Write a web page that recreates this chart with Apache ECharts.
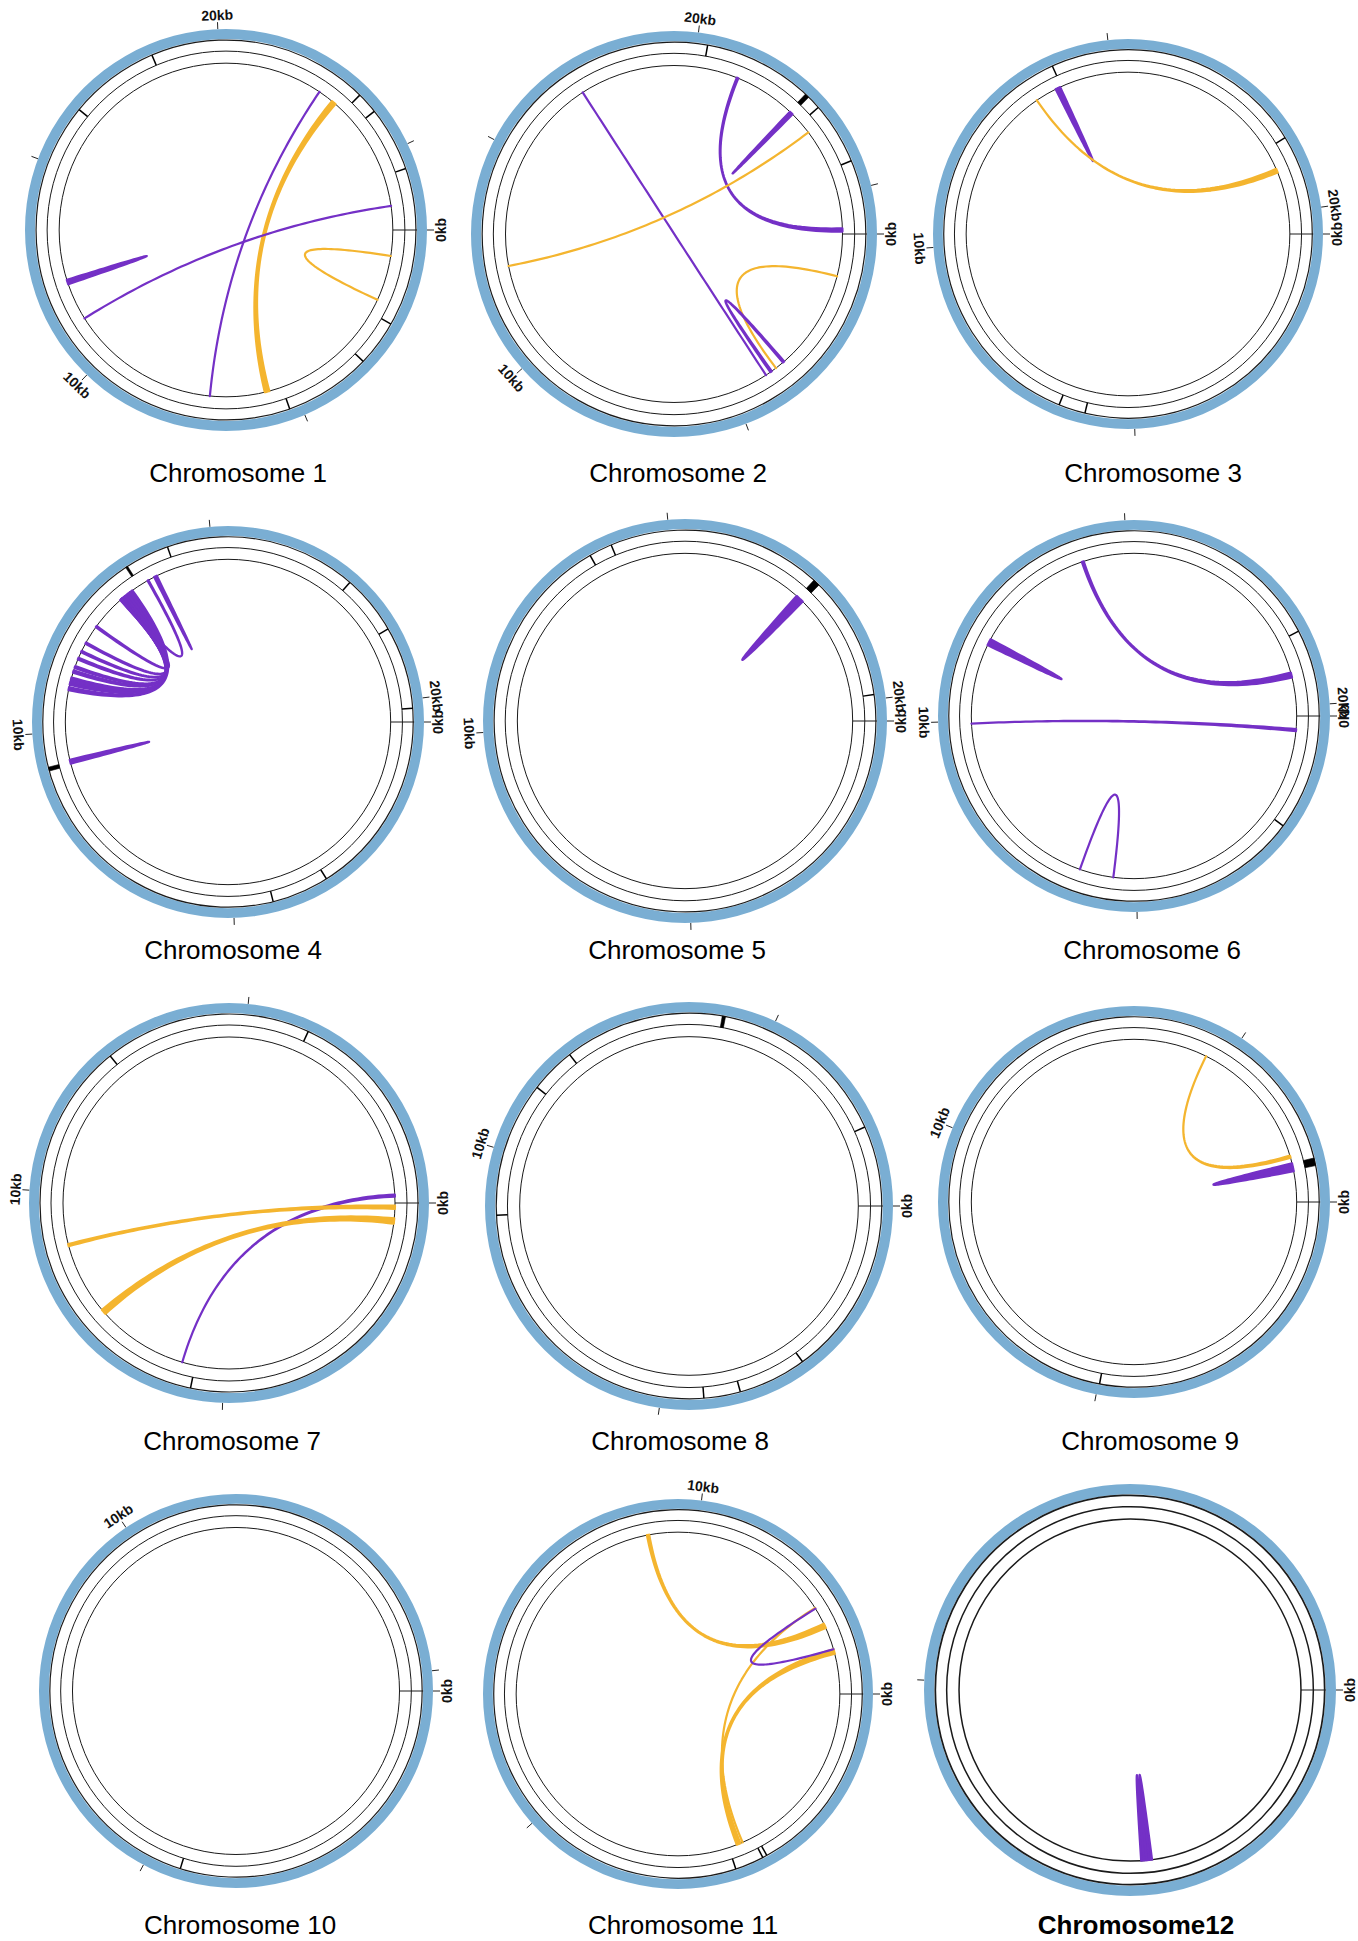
<!DOCTYPE html>
<html>
<head>
<meta charset="utf-8">
<title>Chromosome link maps</title>
<script src="https://cdn.jsdelivr.net/npm/echarts@6.0.0/dist/echarts.min.js"></script>
<style>
    html, body { margin: 0; padding: 0; background: #fff; }
    #chart { width: 1358px; height: 1941px; }
</style>
</head>
<body>
<div id="chart"></div>
<script>
// ---- data (kb) ----
var chromNames = ['Chromosome 1', 'Chromosome 2', 'Chromosome 3', 'Chromosome 4',
    'Chromosome 5', 'Chromosome 6', 'Chromosome 7', 'Chromosome 8',
    'Chromosome 9', 'Chromosome 10', 'Chromosome 11', 'Chromosome12'];
var chromLengths = [26.9, 26.0, 20.45, 20.4, 20.37, 20.2, 19.6, 18.3, 17.8, 15.25, 13.0, 9.85];
var labelTicks = [[0, 10, 20], [0, 10, 20], [0, 10, 20], [0, 10, 20], [0, 10, 20], [0, 10, 20],
    [0, 10], [0, 10], [0, 10], [0, 10], [0, 10], [0]];

// features on the outer track: [start, end]
var chr1Features = [[18.46, 18.46], [16.39, 16.39], [23.52, 23.52], [24.01, 24.01], [25.49, 25.49], [2.22, 2.22], [3.27, 3.27], [5.26, 5.26]];
var chr2Features = [[20.23, 20.23], [22.62, 22.72], [23.02, 23.02], [24.38, 24.38]];
var chr3Features = [[13.96, 13.96], [18.66, 18.66], [6.36, 6.36], [5.88, 5.88]];
var chr4Features = [[14.22, 14.22], [13.40, 13.44], [17.63, 17.63], [18.69, 18.69], [20.16, 20.16], [3.28, 3.28], [4.30, 4.30], [9.33, 9.40]];
var chr5Features = [[13.59, 13.59], [13.99, 13.99], [17.68, 17.80], [19.92, 19.92]];
var chr6Features = [[18.67, 18.67], [2.04, 2.04]];
var chr7Features = [[12.58, 12.58], [16.05, 16.05], [5.54, 5.54]];
var chr8Features = [[14.23, 14.28], [11.78, 11.78], [11.08, 11.08], [9.01, 9.01], [17.07, 17.07], [2.74, 2.74], [3.79, 3.79], [4.35, 4.35]];
var chr9Features = [[17.12, 17.24], [4.98, 4.98]];
var chr10Features = [[4.55, 4.55]];
var chr11Features = [[2.59, 2.59], [2.21, 2.21], [2.26, 2.26]];
var chr12Features = [];

// links: [a1, a2, b1, b2, kind]  kind 0 = purple, 1 = yellow
var chr1Links = [[22.72, 22.72, 7.14, 7.14, 0], [23.12, 23.24, 5.60, 5.72, 1], [26.28, 26.28, 11.06, 11.06, 0],
    [0.67, 0.67, 1.85, 1.85, 1], [12.03, 12.09, 12.09, 12.15, 0]];
var chr2Links = [[17.13, 17.13, 4.11, 4.11, 0], [21.08, 21.12, 25.86, 25.94, 0], [22.64, 22.68, 22.68, 22.73, 0],
    [23.32, 23.32, 12.21, 12.21, 1], [1.05, 1.05, 3.81, 3.81, 1], [3.55, 3.59, 3.94, 3.98, 0]];
var chr3Links = [[13.83, 13.88, 13.88, 13.93, 0], [13.39, 13.39, 19.10, 19.18, 1]];
var chr4Links = [[10.84, 10.90, 13.20, 13.26, 0], [10.95, 11.02, 13.14, 13.20, 0], [11.05, 11.10, 13.08, 13.14, 0],
    [11.20, 11.25, 13.03, 13.08, 0], [11.30, 11.34, 13.00, 13.03, 0], [11.48, 11.52, 12.99, 13.01, 0],
    [11.64, 11.67, 12.98, 13.00, 0], [11.83, 11.86, 12.97, 12.99, 0], [12.22, 12.25, 12.96, 12.98, 0],
    [13.62, 13.64, 12.95, 12.97, 0], [13.77, 13.80, 13.80, 13.83, 0], [9.36, 9.40, 9.40, 9.44, 0]];
var chr5Links = [[17.64, 17.72, 17.72, 17.80, 0]];
var chr6Links = [[14.10, 14.14, 19.33, 19.43, 0], [11.55, 11.61, 11.61, 11.68, 0], [9.95, 9.95, 0.26, 0.30, 0],
    [6.14, 6.14, 5.46, 5.46, 0]];
var chr7Links = [[19.44, 19.48, 5.79, 5.79, 0], [0.05, 0.11, 8.98, 9.02, 1], [0.29, 0.39, 7.52, 7.62, 1]];
var chr8Links = [];
var chr9Links = [[14.65, 14.65, 16.98, 17.02, 1], [17.12, 17.19, 17.19, 17.26, 0]];
var chr10Links = [];
var chr11Links = [[9.35, 9.38, 12.07, 12.13, 1], [11.84, 11.84, 2.40, 2.40, 1], [12.42, 12.48, 2.43, 2.48, 1],
    [11.85, 11.85, 12.42, 12.42, 0]];
var chr12Links = [[2.26, 2.285, 2.285, 2.31, 0], [2.31, 2.335, 2.335, 2.36, 0]];

var featureSets = [chr1Features, chr2Features, chr3Features, chr4Features, chr5Features, chr6Features,
    chr7Features, chr8Features, chr9Features, chr10Features, chr11Features, chr12Features];
var linkSets = [chr1Links, chr2Links, chr3Links, chr4Links, chr5Links, chr6Links,
    chr7Links, chr8Links, chr9Links, chr10Links, chr11Links, chr12Links];

// ---- layout ----
var panelCenters = [[226, 230], [674, 234], [1128, 234], [228, 722], [685, 721], [1134, 716],
    [229, 1203], [689, 1206], [1134, 1202], [236, 1691], [678, 1694], [1130, 1690]];
var panelRadii = [201, 203, 195, 196, 202, 196, 200, 204, 196, 197, 195, 206];
var titleCenters = [[238, 473], [678, 473], [1153, 473], [233, 950], [677, 950], [1152, 950],
    [232, 1441], [680, 1441], [1150, 1441], [240, 1925], [683, 1925], [1136, 1925]];

var LINK_R = 0.83, BAND_IN = 0.89, BAND_OUT = 0.945, IDEO_IN = 0.95;
var IDEO_COLOR = '#7AAED3';
var LINE_COLOR = '#1a1a1a';
var linkColors = ['#7430C6', '#F4B52F'];
var FONT = '"Liberation Sans", Arial, Helvetica, sans-serif';

function screenAngle(api, pos) {
    var c = api.coord([0, 0]);
    var p = api.coord([1, pos]);
    return Math.atan2(p[1] - c[1], p[0] - c[0]);
}

function pixelRadius(api) {
    var c = api.coord([0, 0]);
    var p = api.coord([1, 0]);
    return Math.sqrt((p[0] - c[0]) * (p[0] - c[0]) + (p[1] - c[1]) * (p[1] - c[1]));
}

function quadPoints(p0, c, p2, n) {
    var out = [];
    for (var k = 0; k <= n; k++) {
        var t = k / n, u = 1 - t;
        out.push([u * u * p0[0] + 2 * u * t * c[0] + t * t * p2[0],
                  u * u * p0[1] + 2 * u * t * c[1] + t * t * p2[1]]);
    }
    return out;
}

function arcPoints(api, r, from, to, n) {
    var out = [];
    for (var k = 1; k < n; k++) {
        out.push(api.coord([r, from + (to - from) * k / n]));
    }
    return out;
}

function makeFrame(idx) {
    var thick = idx === 11 ? 1.5 : 1;
    return function (params, api) {
        var c = api.coord([0, 0]);
        var R = pixelRadius(api);
        var start = screenAngle(api, api.value(0));
        var span = (api.value(1) - api.value(0)) / chromLengths[idx] * Math.PI * 2;
        var children = [{
            type: 'sector',
            shape: { cx: c[0], cy: c[1], r0: R * IDEO_IN, r: R, startAngle: start, endAngle: start + span, clockwise: true },
            style: { fill: IDEO_COLOR }
        }];
        [BAND_OUT, BAND_IN, LINK_R].forEach(function (f, j) {
            children.push({
                type: 'circle',
                shape: { cx: c[0], cy: c[1], r: R * f },
                style: { fill: 'none', stroke: LINE_COLOR, lineWidth: j === 0 ? thick + 0.2 : thick }
            });
        });
        var z0 = api.coord([LINK_R, api.value(0)]);
        var z1 = api.coord([IDEO_IN, api.value(0)]);
        children.push({
            type: 'line',
            shape: { x1: z0[0], y1: z0[1], x2: z1[0], y2: z1[1] },
            style: { stroke: LINE_COLOR, lineWidth: 1 }
        });
        return { type: 'group', children: children };
    };
}

function makeFeature(idx) {
    return function (params, api) {
        var s = api.value(0), e = api.value(1);
        var c = api.coord([0, 0]);
        var R = pixelRadius(api);
        if (e - s < 0.01) {
            var p0 = api.coord([BAND_IN, s]);
            var p1 = api.coord([BAND_OUT, s]);
            return {
                type: 'line',
                shape: { x1: p0[0], y1: p0[1], x2: p1[0], y2: p1[1] },
                style: { stroke: '#000', lineWidth: 1.5 }
            };
        }
        var a = screenAngle(api, s);
        return {
            type: 'sector',
            shape: { cx: c[0], cy: c[1], r0: R * BAND_IN, r: R * BAND_OUT, startAngle: a,
                     endAngle: a + (e - s) / chromLengths[idx] * Math.PI * 2, clockwise: true },
            style: { fill: '#000', stroke: '#000', lineWidth: 0.6 }
        };
    };
}

function renderLink(params, api) {
    var a1 = api.value(0), a2 = api.value(1), b1 = api.value(2), b2 = api.value(3);
    var color = linkColors[api.value(4)];
    var c = api.coord([0, 0]);
    var pts = quadPoints(api.coord([LINK_R, a1]), c, api.coord([LINK_R, b2]), 60);
    pts = pts.concat(arcPoints(api, LINK_R, b2, b1, 6));
    pts = pts.concat(quadPoints(api.coord([LINK_R, b1]), c, api.coord([LINK_R, a2]), 60));
    pts = pts.concat(arcPoints(api, LINK_R, a2, a1, 6));
    return {
        type: 'polygon',
        shape: { points: pts },
        style: { fill: color, stroke: color, lineWidth: 2.2, lineJoin: 'round' }
    };
}

function renderLabel(params, api) {
    var pos = api.value(0);
    var c = api.coord([0, 0]);
    var p = api.coord([1, pos]);
    var dx = p[0] - c[0], dy = p[1] - c[1];
    var R = Math.sqrt(dx * dx + dy * dy);
    var k = (R + 14) / R;
    var theta = Math.atan2(-dy, dx) * 180 / Math.PI;
    var rot = ((theta - 90) % 360 + 360) % 360;
    if (rot > 90 && rot <= 270) {
        rot -= 180;
    } else if (rot > 270) {
        rot -= 360;
    }
    return {
        type: 'text',
        x: c[0] + dx * k,
        y: c[1] + dy * k,
        rotation: rot * Math.PI / 180,
        style: {
            text: pos + 'kb', fill: '#111', fontSize: 14, fontWeight: 'bold', fontFamily: FONT,
            align: 'center', verticalAlign: 'middle'
        }
    };
}

var chart = echarts.init(document.getElementById('chart'), null, { renderer: 'svg' });

var polar = [], angleAxis = [], radiusAxis = [], series = [], graphics = [];
for (var i = 0; i < chromNames.length; i++) {
    polar.push({ center: panelCenters[i], radius: panelRadii[i] });
    angleAxis.push({
        polarIndex: i, type: 'value', min: 0, max: chromLengths[i], interval: 5,
        startAngle: 0, clockwise: true,
        axisLine: { show: false },
        splitLine: { show: false },
        axisLabel: { show: false },
        axisTick: { show: true, length: 7, lineStyle: { color: '#222', width: 1 } }
    });
    radiusAxis.push({
        polarIndex: i, type: 'value', min: 0, max: 1,
        axisLine: { show: false }, axisTick: { show: false },
        axisLabel: { show: false }, splitLine: { show: false }
    });
    series.push({
        type: 'custom', coordinateSystem: 'polar', polarIndex: i, silent: true,
        renderItem: makeFrame(i), data: [[0, chromLengths[i]]]
    });
    series.push({
        type: 'custom', coordinateSystem: 'polar', polarIndex: i, silent: true,
        renderItem: makeFeature(i), data: featureSets[i]
    });
    series.push({
        type: 'custom', coordinateSystem: 'polar', polarIndex: i, silent: true,
        renderItem: renderLink, data: linkSets[i]
    });
    series.push({
        type: 'custom', coordinateSystem: 'polar', polarIndex: i, silent: true,
        renderItem: renderLabel, data: labelTicks[i].map(function (v) { return [v]; })
    });
    graphics.push({
        type: 'text', x: titleCenters[i][0], y: titleCenters[i][1], silent: true,
        style: {
            text: chromNames[i], fill: '#000', fontSize: 26, fontFamily: FONT,
            fontWeight: i === 11 ? 'bold' : 'normal', align: 'center', verticalAlign: 'middle'
        }
    });
}

chart.setOption({
    animation: false,
    backgroundColor: '#fff',
    polar: polar,
    angleAxis: angleAxis,
    radiusAxis: radiusAxis,
    graphic: graphics,
    series: series
});
</script>
</body>
</html>
